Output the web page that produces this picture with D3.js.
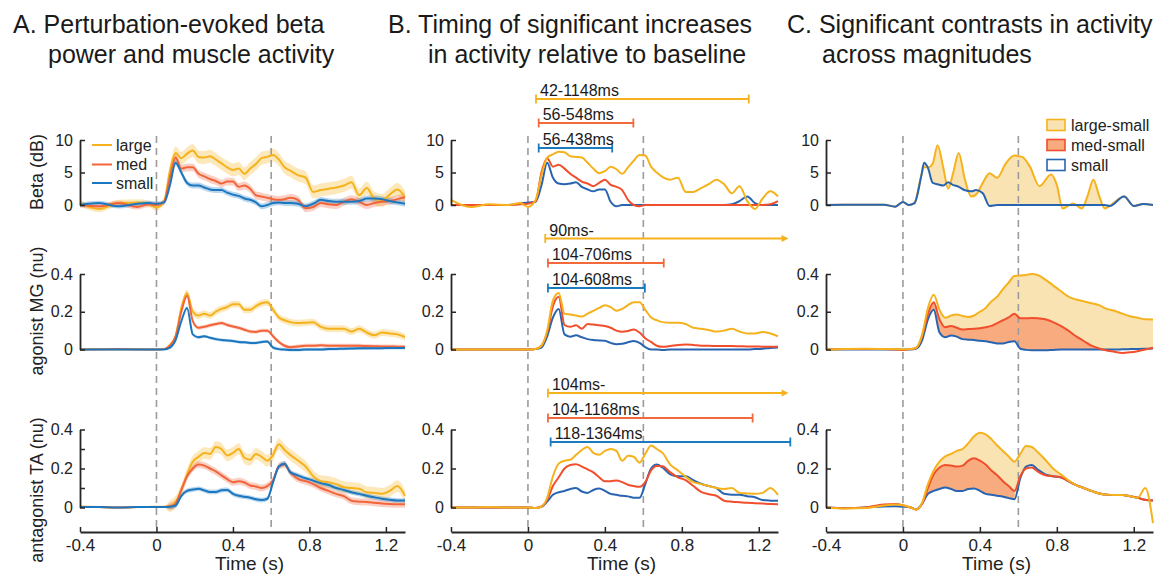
<!DOCTYPE html>
<html lang="en">
<head>
<meta charset="UTF-8" />
<title>Beta power and muscle activity across perturbation magnitudes</title>
<script src="https://d3js.org/d3.v7.min.js"></script>
<style>
  body { margin: 0; background: #fff; }
</style>
</head>
<body>
<svg width="1172" height="579"></svg>
<script>
// time grid (s) shared by most traces
const tGrid = [-0.4,-0.3,-0.2,-0.1,-0.04,0,0.04,0.07,0.1,0.13,0.16,0.19,0.22,0.25,0.28,0.31,0.34,0.37,0.4,0.43,0.46,0.49,0.52,0.55,0.58,0.61,0.64,0.67,0.7,0.74,0.78,0.82,0.86,0.9,0.94,0.98,1.02,1.06,1.1,1.14,1.18,1.22,1.26,1.3];
// finer grid for the beta contrast trace in C
const tGridC = [-0.4,-0.1,-0.04,0,0.03,0.06,0.095,0.11,0.13,0.155,0.18,0.21,0.235,0.26,0.29,0.32,0.355,0.38,0.415,0.45,0.49,0.535,0.58,0.62,0.66,0.71,0.77,0.8,0.83,0.885,0.93,0.96,0.99,1.02,1.05,1.075,1.15,1.2,1.25,1.3];

// ---- A: mean traces ----
const aBetaLarge = [0.3,-0.6,0.3,0.4,0.2,-0.4,0.6,5.2,8.0,7.2,7.9,8.4,7.4,7.3,7.5,7.0,6.4,5.8,5.4,5.6,4.8,5.6,6.3,7.2,7.4,7.7,7.0,5.8,5.3,4.6,4.2,2.0,2.3,2.5,2.7,3.0,3.5,1.5,2.6,1.0,0.7,1.6,2.4,1.2];
const aBetaMed = [0,-0.2,0.3,-0.3,0.1,0.0,0.5,4.2,7.3,5.6,5.8,5.8,4.8,4.4,4.0,3.7,3.3,3.6,3.6,2.8,3.0,2.5,1.5,1.3,1.1,0.9,0.8,0.9,1.1,0.8,-0.5,-0.3,0.3,0.1,0.0,0.5,0.9,0.5,0.0,0.3,0.5,0.6,0.9,1.2];
const aBetaSmall = [0,0.3,-0.2,0.2,0.3,0.2,0.4,3.0,6.5,5.0,3.4,3.0,3.0,2.7,2.4,2.3,2.3,1.9,1.6,1.4,1.0,0.8,0.4,-0.2,0.0,0.3,0.4,0.3,0.3,0.2,-0.2,0.2,0.8,0.6,0.5,0.5,0.5,0.6,1.0,1.0,0.9,0.6,0.4,0.2];
const aMGLarge = [0,0.003,0,0.002,0,0,0.003,0.02,0.07,0.22,0.3,0.2,0.18,0.19,0.18,0.2,0.215,0.225,0.24,0.24,0.21,0.21,0.23,0.245,0.25,0.21,0.17,0.155,0.145,0.14,0.142,0.145,0.12,0.11,0.11,0.11,0.095,0.11,0.09,0.075,0.09,0.085,0.08,0.066];
const aMGMed = [0,0,0.002,0,0,0,0.002,0.02,0.07,0.2,0.285,0.15,0.115,0.12,0.128,0.135,0.14,0.13,0.122,0.115,0.105,0.095,0.093,0.1,0.1,0.07,0.04,0.02,0.012,0.016,0.02,0.02,0.022,0.02,0.02,0.02,0.02,0.02,0.018,0.017,0.016,0.016,0.015,0.014];
const aMGSmall = [0,0,0,0,0,0,0,0.01,0.05,0.15,0.22,0.08,0.065,0.07,0.062,0.055,0.05,0.048,0.045,0.04,0.038,0.035,0.035,0.04,0.042,0.01,0.002,0,-0.002,-0.002,0,0,0,0.002,0.003,0.004,0.005,0.006,0.006,0.007,0.007,0.008,0.008,0.008];
const aTALarge = [0.005,0.002,0,0.002,0.003,0.004,0.004,0.006,0.03,0.087,0.17,0.235,0.26,0.28,0.275,0.31,0.3,0.267,0.28,0.3,0.255,0.245,0.275,0.26,0.24,0.27,0.325,0.295,0.27,0.241,0.21,0.16,0.135,0.13,0.12,0.104,0.1,0.096,0.078,0.075,0.07,0.085,0.11,0.06];
const aTAMed = [0.003,0.002,0,0.002,0.003,0.003,0.003,0.005,0.02,0.09,0.16,0.2,0.22,0.215,0.2,0.185,0.165,0.145,0.13,0.135,0.128,0.113,0.108,0.1,0.11,0.14,0.21,0.22,0.18,0.147,0.135,0.12,0.1,0.085,0.07,0.058,0.035,0.03,0.028,0.024,0.02,0.018,0.017,0.017];
const aTASmall = [0.003,0.002,0,0.002,0.003,0.003,0.003,0.004,0.01,0.06,0.085,0.092,0.096,0.088,0.08,0.08,0.088,0.09,0.07,0.06,0.055,0.05,0.042,0.038,0.045,0.13,0.21,0.225,0.18,0.165,0.15,0.138,0.125,0.115,0.1,0.09,0.078,0.07,0.06,0.052,0.045,0.04,0.036,0.036];
// SEM before / after onset, for large, med, small
const semBeta = [[0.5, 1.0], [0.4, 0.6], [0.35, 0.45]];
const semMG = [[0.003, 0.018], [0.002, 0.01], [0.002, 0.008]];
const semTA = [[0.003, 0.03], [0.002, 0.018], [0.002, 0.012]];
const semOnset = 0.05;

// ---- B: traces and significance windows ----
const bBetaLarge = [0.8,-0.3,0.1,0,0.3,-0.3,0.8,4.5,7.3,7.8,8.2,8.1,7.5,7.4,7.3,6.5,5.6,4.9,5.2,5.9,5.5,4.8,5.8,6.8,7.7,7.6,5.9,5.0,4.3,3.9,4.2,2.0,2.0,2.6,3.2,3.9,3.2,1.8,2.9,0.6,-0.6,1.0,2.1,1.3];
const bBetaMed = [0,0,0,0,0.1,0.2,0.6,5.0,7.2,5.9,6.2,5.6,4.8,4.2,3.6,3.3,2.9,3.4,3.9,3.1,2.8,2.3,0.8,0,-0.2,0,0,0,0,0,0,0,0,0,0,0,0,0,0,0,0,0,0.1,0.6];
const bBetaSmall = [0,0,0,0,0.2,0.4,0.5,3.0,6.5,4.2,3.3,3.2,3.3,3.5,2.8,2.4,2.1,2.4,2.4,0.5,-0.2,0,0,0,0,0,0,0,0,0,0,0,0,0,0,0,0,0.1,0.6,1.3,0.3,0,0,0];
const bMGLarge = [0,0,0,0,0,0,0.003,0.02,0.1,0.26,0.3,0.19,0.185,0.18,0.175,0.19,0.205,0.22,0.235,0.225,0.205,0.215,0.235,0.25,0.25,0.21,0.17,0.155,0.145,0.142,0.142,0.135,0.115,0.11,0.103,0.095,0.1,0.11,0.095,0.085,0.085,0.093,0.085,0.07];
const bMGMed = [0,0,0,0,0,0,0.003,0.02,0.09,0.23,0.28,0.13,0.12,0.128,0.11,0.135,0.132,0.128,0.124,0.115,0.1,0.094,0.098,0.106,0.09,0.06,0.04,0.02,0.014,0.018,0.024,0.027,0.024,0.02,0.02,0.018,0.018,0.018,0.017,0.016,0.016,0.015,0.015,0.014];
const bMGSmall = [0,0,0,0,0,0,0.002,0.01,0.07,0.17,0.215,0.08,0.068,0.075,0.065,0.055,0.05,0.048,0.046,0.035,0.028,0.03,0.038,0.045,0.035,0.012,0,0,-0.002,0,0,0,0,0,0,0,0,0,0,0,0.002,0.004,0.008,0.01];
const bTALarge = [0,0,0.002,0,0,0,-0.003,0.005,0.05,0.16,0.225,0.24,0.245,0.27,0.295,0.31,0.28,0.27,0.29,0.3,0.29,0.24,0.265,0.26,0.23,0.275,0.318,0.3,0.28,0.22,0.19,0.158,0.13,0.12,0.11,0.1,0.095,0.1,0.075,0.072,0.07,0.075,0.1,0.065];
const bTAMed = [0,0,0,0,0,0,-0.002,0.005,0.04,0.11,0.155,0.2,0.218,0.222,0.21,0.195,0.18,0.155,0.135,0.135,0.139,0.13,0.117,0.11,0.106,0.13,0.19,0.213,0.212,0.18,0.155,0.14,0.11,0.08,0.068,0.06,0.035,0.03,0.027,0.024,0.022,0.02,0.018,0.017];
const bTASmall = [0,0,0,0,0,0,-0.002,0.003,0.03,0.065,0.078,0.085,0.095,0.1,0.082,0.075,0.09,0.098,0.085,0.07,0.065,0.06,0.057,0.05,0.05,0.12,0.2,0.22,0.205,0.17,0.16,0.16,0.14,0.122,0.11,0.1,0.07,0.066,0.065,0.058,0.053,0.038,0.035,0.034];
// significant windows (s) for large, med, small; null = no end within the epoch
const sigBetaStart = [0.042, 0.056, 0.056];
const sigBetaEnd = [1.148, 0.548, 0.438];
const sigMGStart = [0.090, 0.104, 0.104];
const sigMGEnd = [null, 0.706, 0.608];
const sigTAStart = [0.104, 0.104, 0.118];
const sigTAEnd = [null, 1.168, 1.364];

// ---- C: contrasts ----
const cBetaLarge = [0,0.05,-0.25,0.45,0,0.3,4.5,5.8,5.8,6.4,9.2,5.7,2.5,4.8,8.0,4.2,1.3,1.6,3.4,4.9,4.2,6.4,7.6,7.4,5.9,2.9,4.7,3.1,-0.55,0.25,-0.55,1.4,3.9,1.4,-0.55,-0.15,1.3,-0.15,0.15,0];
const cBetaSmall = [0,0.05,-0.25,0.45,0,0.3,4.4,6.5,5.7,3.4,3.2,3.0,3.5,3.1,2.8,2.3,2.1,2.3,1.8,-0.15,0,0,0,0,0,0,0,0,0,0,0,0,0,0,0,-0.15,1.3,-0.15,0.15,0];
const cMGLarge = [0,0.003,0.004,0.003,0.002,0.001,0.002,0.01,0.08,0.22,0.29,0.21,0.168,0.18,0.185,0.178,0.172,0.18,0.2,0.22,0.255,0.28,0.32,0.355,0.39,0.392,0.395,0.4,0.395,0.37,0.34,0.31,0.28,0.265,0.255,0.245,0.235,0.215,0.205,0.19,0.176,0.168,0.16,0.159];
const cMGMed = [0,0.002,0.003,0.002,0,-0.002,0.002,0.01,0.07,0.19,0.25,0.16,0.118,0.125,0.115,0.106,0.108,0.11,0.113,0.118,0.125,0.14,0.155,0.17,0.19,0.165,0.165,0.167,0.166,0.16,0.145,0.125,0.1,0.07,0.045,0.02,0.005,-0.005,-0.012,-0.018,-0.015,-0.009,0,0.009];
const cMGSmall = [0,0,0,0,0,0,0,0.005,0.05,0.16,0.21,0.09,0.065,0.074,0.068,0.055,0.052,0.05,0.046,0.044,0.038,0.032,0.032,0.04,0.044,0.004,-0.002,-0.004,-0.004,-0.004,-0.002,0,0,0,0,0,0,0,0,0.001,0.002,0.003,0.004,0.005];
const cTALarge = [0,-0.005,-0.003,0.01,0.015,0.012,0.0,-0.01,0.025,0.12,0.19,0.235,0.262,0.275,0.29,0.3,0.33,0.365,0.383,0.375,0.35,0.318,0.29,0.262,0.235,0.275,0.315,0.31,0.285,0.245,0.2,0.17,0.14,0.115,0.1,0.085,0.072,0.066,0.064,0.064,0.058,0.05,0.1,-0.08];
const cTAMed = [0,-0.004,0.0,0.015,0.018,0.012,0.0,-0.01,0.02,0.1,0.17,0.205,0.218,0.215,0.21,0.215,0.24,0.252,0.24,0.22,0.19,0.165,0.135,0.11,0.085,0.16,0.2,0.205,0.185,0.165,0.16,0.155,0.135,0.115,0.1,0.085,0.072,0.066,0.064,0.064,0.058,0.05,0.038,0.036];
const cTASmall = [0,-0.003,0,0.005,0.006,0.004,0.0,-0.01,0.02,0.07,0.085,0.095,0.102,0.095,0.085,0.085,0.095,0.098,0.085,0.07,0.065,0.06,0.055,0.048,0.042,0.15,0.21,0.218,0.195,0.17,0.16,0.155,0.135,0.115,0.1,0.085,0.072,0.066,0.064,0.064,0.058,0.05,0.04,0.036];
// time windows where contrasts are significant
const cFillBeta = [0.095, 1.075];
const cFillMGLarge = [0.19, 1.3];
const cFillMGMed = [0.1, 1.02];
const cFillTALarge = [0.1, 0.82];
const cFillTAMed = [0.1, 0.58];

const sizeNames = ["large", "med", "small"];
const contrastNames = ["large-small", "med-small", "small"];
const xTicks = [-0.4, 0, 0.4, 0.8, 1.2];
const eventTimes = [0, 0.6];

// ---- drawing ----
const colorsA = ["#f5b21d", "#f2653a", "#1b77bf"];
const colorsBC = ["#f5b21d", "#f04e2c", "#2864b0"];
const fillColors = ["#fae3b2", "#f7ab7e"];
const font = "'Liberation Sans', Arial, Helvetica, sans-serif";

const svg = d3.select("svg").attr("font-family", font);
svg.append("rect").attr("width", 1172).attr("height", 579).attr("fill", "#fff");

const panelRange = [[80, 405], [451, 778], [826, 1153]];
const rowInfo = [
  { dom: [0, 10], range: [205, 140], ticks: [0, 5, 10], label: "Beta (dB)", labelY: 172 },
  { dom: [0, 0.4], range: [349.5, 274], ticks: [0, 0.2, 0.4], label: "agonist MG (nu)", labelY: 311 },
  { dom: [0, 0.4], range: [507.5, 429.5], ticks: [0, 0.2, 0.4], label: "antagonist TA (nu)", labelY: 490 }
];
const xAxisY = 532;
const xs = panelRange.map(r => d3.scaleLinear().domain([-0.4, 1.3]).range(r));
const ys = rowInfo.map(r => d3.scaleLinear().domain(r.dom).range(r.range));

function line(x, y, ts) {
  return d3.line().x((d, i) => x(ts[i])).y(d => y(d)).curve(d3.curveMonotoneX);
}
function between(x, y, ts, lo, hi, win) {
  const pts = ts.map((t, i) => ({ t, lo: lo[i], hi: hi[i] }))
    .filter(d => d.t >= win[0] - 1e-9 && d.t <= win[1] + 1e-9);
  return d3.area().x(d => x(d.t)).y0(d => y(d.lo)).y1(d => y(d.hi)).curve(d3.curveMonotoneX)(pts);
}
function drawLine(g, x, y, ts, vals, col) {
  g.append("path").attr("d", line(x, y, ts)(vals))
    .attr("fill", "none").attr("stroke", col).attr("stroke-width", 2)
    .attr("stroke-linejoin", "round");
}
function dashes(g, x) {
  eventTimes.forEach(t => {
    g.append("line").attr("x1", x(t)).attr("x2", x(t)).attr("y1", 136).attr("y2", xAxisY)
      .attr("stroke", "#9b9b9b").attr("stroke-width", 1.6).attr("stroke-dasharray", "7,5");
  });
}
function yAxis(g, x0, y, ticks, minor) {
  const vals = minor ? [0, 0.1, 0.2, 0.3, 0.4] : ticks;
  const ax = d3.axisLeft(y).tickValues(vals).tickSize(-5).tickSizeOuter(0).tickPadding(7)
    .tickFormat(d => ticks.includes(d) ? String(d) : "");
  const a = g.append("g").attr("transform", `translate(${x0},0)`).call(ax)
    .attr("font-family", font).attr("font-size", 16);
  a.select(".domain").attr("stroke", "#262626").attr("stroke-width", 1.8);
  a.selectAll(".tick line").attr("stroke", "#262626").attr("stroke-width", 1.5);
  a.selectAll(".tick text").attr("fill", "#222");
}
function xAxis(g, x) {
  const ax = d3.axisBottom(x).tickValues(xTicks).tickSize(-5).tickSizeOuter(0).tickPadding(7)
    .tickFormat(d => String(d));
  const a = g.append("g").attr("transform", `translate(0,${xAxisY})`).call(ax)
    .attr("font-family", font).attr("font-size", 17);
  a.select(".domain").attr("stroke", "#262626").attr("stroke-width", 1.8);
  a.selectAll(".tick line").attr("stroke", "#262626").attr("stroke-width", 1.5);
  a.selectAll(".tick text").attr("fill", "#222");
  const r = x.range();
  g.append("text").attr("x", (r[0] + r[1]) / 2 + 7).attr("y", 570)
    .attr("text-anchor", "middle").attr("font-size", 19).attr("fill", "#222").text("Time (s)");
}

// titles
const titles = [
  [[13, "A. Perturbation-evoked beta"], [48, "power and muscle activity"]],
  [[388, "B. Timing of significant increases"], [428, "in activity relative to baseline"]],
  [[787, "C. Significant contrasts in activity"], [822, "across magnitudes"]]
];
titles.forEach(tl => tl.forEach(([x, s], k) => {
  svg.append("text").attr("x", x).attr("y", k ? 63 : 33).attr("font-size", 25)
    .attr("fill", "#1a1a1a").text(s);
}));

// ---- panel A ----
const gA = svg.append("g");
const aRows = [[aBetaLarge, aBetaMed, aBetaSmall], [aMGLarge, aMGMed, aMGSmall], [aTALarge, aTAMed, aTASmall]];
const aSem = [semBeta, semMG, semTA];
aRows.forEach((series, r) => {
  const x = xs[0], y = ys[r];
  series.forEach((vals, s) => {
    const sem = aSem[r][s];
    const lo = vals.map((v, i) => v - (tGrid[i] < semOnset ? sem[0] : sem[1]));
    const hi = vals.map((v, i) => v + (tGrid[i] < semOnset ? sem[0] : sem[1]));
    gA.append("path").attr("d", between(x, y, tGrid, lo, hi, [-0.4, 1.3]))
      .attr("fill", colorsA[s]).attr("fill-opacity", 0.3);
  });
});
dashes(gA, xs[0]);
aRows.forEach((series, r) => {
  series.forEach((vals, s) => drawLine(gA, xs[0], ys[r], tGrid, vals, colorsA[s]));
  yAxis(gA, panelRange[0][0], ys[r], rowInfo[r].ticks, r === 2);
  gA.append("text").attr("transform", `translate(37,${rowInfo[r].labelY}) rotate(-90)`)
    .attr("text-anchor", "middle").attr("dy", "0.35em").attr("font-size", 18)
    .attr("fill", "#222").text(rowInfo[r].label);
});
xAxis(gA, xs[0]);
// legend
sizeNames.forEach((name, s) => {
  const ly = [145, 164.5, 183][s];
  gA.append("line").attr("x1", 92).attr("x2", 112).attr("y1", ly).attr("y2", ly)
    .attr("stroke", colorsA[s]).attr("stroke-width", 2);
  gA.append("text").attr("x", 116).attr("y", ly).attr("dy", "0.35em")
    .attr("font-size", 16).attr("fill", "#222").text(name);
});

// ---- panel B ----
const gB = svg.append("g");
const bRows = [[bBetaLarge, bBetaMed, bBetaSmall], [bMGLarge, bMGMed, bMGSmall], [bTALarge, bTAMed, bTASmall]];
const sigStarts = [sigBetaStart, sigMGStart, sigTAStart];
const sigEnds = [sigBetaEnd, sigMGEnd, sigTAEnd];
const barYs = [[99, 123, 148], [238.5, 263, 288], [393, 418, 442]];
const barColors = ["#f5b21d", "#f26a3c", "#1b7bbf"];
const arrowT = 1.355;
dashes(gB, xs[1]);
bRows.forEach((series, r) => {
  const x = xs[1], y = ys[r];
  [2, 1, 0].forEach(s => drawLine(gB, x, y, tGrid, series[s], colorsBC[s]));
  yAxis(gB, panelRange[1][0], y, rowInfo[r].ticks, false);
  sigStarts[r].forEach((st, s) => {
    const en = sigEnds[r][s];
    const by = barYs[r][s];
    const x0 = x(st);
    const x1 = en === null ? x(arrowT) : x(en);
    const col = barColors[s];
    gB.append("line").attr("x1", x0).attr("x2", en === null ? x1 - 5 : x1).attr("y1", by).attr("y2", by)
      .attr("stroke", col).attr("stroke-width", 1.8);
    gB.append("line").attr("x1", x0).attr("x2", x0).attr("y1", by - 4.5).attr("y2", by + 4.5)
      .attr("stroke", col).attr("stroke-width", 1.8);
    if (en === null) {
      gB.append("path").attr("d", `M${x1},${by}L${x1 - 7},${by - 3.5}L${x1 - 7},${by + 3.5}Z`).attr("fill", col);
    } else {
      gB.append("line").attr("x1", x1).attr("x2", x1).attr("y1", by - 4.5).attr("y2", by + 4.5)
        .attr("stroke", col).attr("stroke-width", 1.8);
    }
    const label = en === null ? `${Math.round(st * 1000)}ms-` : `${Math.round(st * 1000)}-${Math.round(en * 1000)}ms`;
    gB.append("text").attr("x", x0 + 4).attr("y", by - 3).attr("font-size", 16)
      .attr("fill", "#1a1a1a").text(label);
  });
});
xAxis(gB, xs[1]);

// ---- panel C ----
const gC = svg.append("g");
{
  const x = xs[2];
  // beta
  gC.append("path").attr("d", between(x, ys[0], tGridC, cBetaSmall, cBetaLarge, cFillBeta))
    .attr("fill", fillColors[0]);
  // MG and TA
  const cRows = [[cMGLarge, cMGMed, cMGSmall, cFillMGLarge, cFillMGMed], [cTALarge, cTAMed, cTASmall, cFillTALarge, cFillTAMed]];
  cRows.forEach(([L, M, S, wl, wm], k) => {
    const y = ys[k + 1];
    gC.append("path").attr("d", between(x, y, tGrid, S, L, wl)).attr("fill", fillColors[0]);
    gC.append("path").attr("d", between(x, y, tGrid, S, M, wm)).attr("fill", fillColors[1]);
  });
  dashes(gC, x);
  drawLine(gC, x, ys[0], tGridC, cBetaLarge, colorsBC[0]);
  drawLine(gC, x, ys[0], tGridC, cBetaSmall, colorsBC[2]);
  cRows.forEach(([L, M, S], k) => {
    const y = ys[k + 1];
    drawLine(gC, x, y, tGrid, S, colorsBC[2]);
    drawLine(gC, x, y, tGrid, M, colorsBC[1]);
    drawLine(gC, x, y, tGrid, L, colorsBC[0]);
  });
  rowInfo.forEach((ri, r) => yAxis(gC, panelRange[2][0], ys[r], ri.ticks, false));
  xAxis(gC, x);
  // legend
  contrastNames.forEach((name, s) => {
    const ly = [125, 145, 165][s];
    gC.append("rect").attr("x", 1047).attr("y", ly - 5.5).attr("width", 18).attr("height", 11)
      .attr("fill", s < 2 ? fillColors[s] : "#fff").attr("stroke", colorsBC[s]).attr("stroke-width", 1.6);
    gC.append("text").attr("x", 1071).attr("y", ly).attr("dy", "0.35em")
      .attr("font-size", 16).attr("fill", "#222").text(name);
  });
}
</script>
</body>
</html>
